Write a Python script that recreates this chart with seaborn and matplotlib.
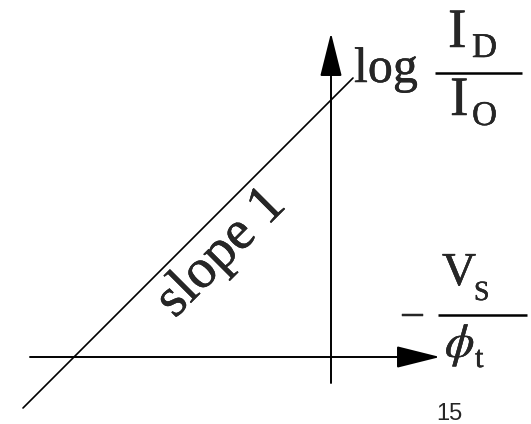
import matplotlib
matplotlib.use("Agg")
import matplotlib.pyplot as plt
import matplotlib.patheffects as pe
import seaborn as sns

sns.set_theme(style="white")
plt.rcParams["mathtext.fontset"] = "stix"

# Diagram coordinates: origin where the two axes cross, one unit per pixel
x_axis_span = [-301, 109]     # -V_S/phi_t axis, arrow tip at the right end
y_axis_span = [-26, 324]      # log(I_D/I_O) axis, arrow tip at the top end
line_x = [-308, 22]           # extent of the straight-line characteristic
slope = 1.0
intercept = 257
line_y = [slope * v + intercept for v in line_x]

slope_label = "slope 1"
page_number = "15"

SERIF = "Liberation Serif"
PT_PER_PX = 72 / 100
HEAVY = [pe.withStroke(linewidth=0.3, foreground="black")]

fig = plt.figure(figsize=(5.31, 4.24), dpi=100)
ax = fig.add_axes([0, 0, 1, 1])
ax.set_xlim(-331, 200)
ax.set_ylim(-67, 357)
ax.axis("off")

# straight line of slope 1
sns.lineplot(x=line_x, y=line_y, color="black", lw=1.2, ax=ax,
             estimator=None, sort=False)


def axis_arrow(start, end, head_len_px, head_half_px):
    style = "-|>,head_length={:.2f},head_width={:.2f}".format(
        head_len_px * PT_PER_PX, head_half_px * PT_PER_PX)
    ax.annotate("", xy=end, xytext=start,
                arrowprops=dict(arrowstyle=style, color="black", lw=1.4,
                                shrinkA=0, shrinkB=0, mutation_scale=1))


axis_arrow((x_axis_span[0], 0), (x_axis_span[1], 0), 38, 9.5)
axis_arrow((0, y_axis_span[0]), (0, y_axis_span[1]), 38, 9.5)


def label(x, y, s, size, **kw):
    kw.setdefault("family", SERIF)
    return ax.text(x, y, s, fontsize=size, ha="left", va="baseline",
                   path_effects=HEAVY, **kw)


# vertical axis label: log I_D / I_O
label(23, 275, "log", 36)
label(117, 310, "I", 40)
label(141, 300, "D", 25)
ax.plot([104, 191], [284, 284], color="black", lw=1.8, solid_capstyle="butt")
label(119, 242, "I", 40)
label(141, 232, "O", 25)

# horizontal axis label: -V_S / phi_t
label(71, 32, "\u2013", 30)
label(111, 72, "V", 34)
label(143, 57, "S", 20)
ax.plot([107, 196], [42, 42], color="black", lw=1.8, solid_capstyle="butt")
ax.text(114, 0, r"$\phi$", fontsize=34, ha="left", va="baseline",
        path_effects=HEAVY)
label(144, -10, "t", 22)

# slope annotation along the line
ax.text(-110, 104, slope_label, fontsize=40, family=SERIF, rotation=45,
        rotation_mode="anchor", ha="center", va="center", path_effects=HEAVY)

# page number
ax.text(105, -63, page_number, fontsize=17, family="Liberation Sans",
        ha="left", va="baseline")

fig.savefig("out.png", dpi=100, facecolor="white")
